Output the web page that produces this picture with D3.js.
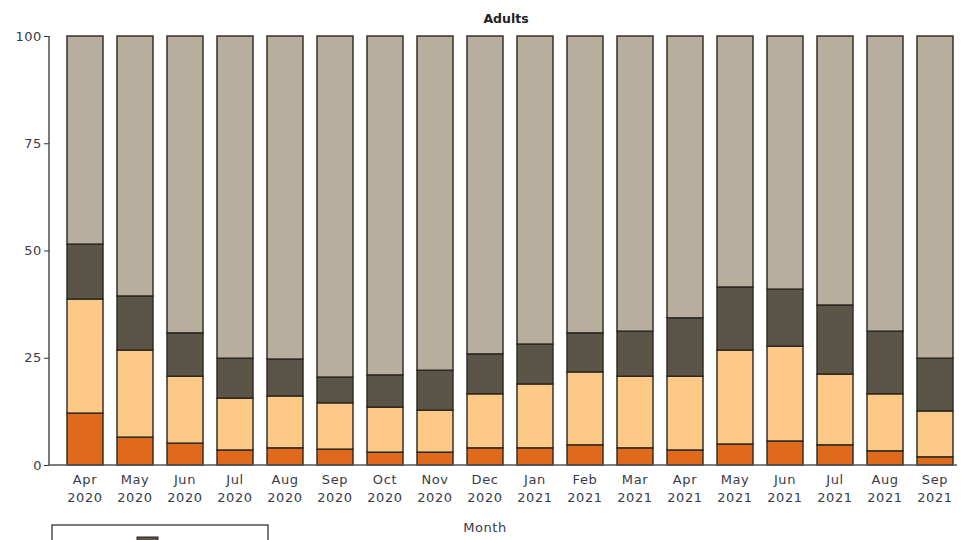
<!DOCTYPE html>
<html><head><meta charset="utf-8">
<script src="https://cdn.jsdelivr.net/npm/d3@7"></script>
<style>body{margin:0;background:#fff}svg{display:block}text{font-family:"DejaVu Sans",sans-serif}</style>
</head><body>
<script>
const months = ["Apr","May","Jun","Jul","Aug","Sep","Oct","Nov","Dec","Jan","Feb","Mar","Apr","May","Jun","Jul","Aug","Sep"];
const years  = ["2020","2020","2020","2020","2020","2020","2020","2020","2020","2021","2021","2021","2021","2021","2021","2021","2021","2021"];
// segment values (percent), bottom to top
const seg1 = [12.1,6.5,5.1,3.5,4.0,3.7,3.0,3.0,4.0,4.0,4.7,4.0,3.5,4.9,5.6,4.7,3.3,1.9];
const seg2 = [26.6,20.3,15.6,12.1,12.1,10.8,10.5,9.8,12.6,14.9,17.0,16.7,17.2,21.9,22.1,16.5,13.3,10.7];
const seg3 = [12.8,12.6,10.1,9.3,8.6,6.0,7.5,9.3,9.3,9.3,9.1,10.5,13.6,14.7,13.3,16.1,14.6,12.3];
const seg4 = seg1.map((d,i)=>+(100-d-seg2[i]-seg3[i]).toFixed(1));
const yTicks = [0,25,50,75,100];
const colors = ["#e06a1c","#fcca86","#5a5547","#b7ae9d"];

const W=961,H=540;
const svg=d3.select("body").append("svg").attr("width",W).attr("height",H);
const keys = months.map((m,i)=>i);
const x=d3.scaleBand().domain(keys).range([60,960]).paddingInner(0.28).paddingOuter(0.14);
const y=d3.scaleLinear().domain([0,100]).range([465,36]);

const rows = keys.map(i=>({i, s0:seg1[i], s1:seg2[i], s2:seg3[i], s3:seg4[i]}));
const stack = d3.stack().keys(["s0","s1","s2","s3"])(rows);

stack.forEach((layer,li)=>{
  svg.append("g").selectAll("rect").data(layer).join("rect")
    .attr("x",d=>x(d.data.i)).attr("width",x.bandwidth())
    .attr("y",d=>y(d[1])).attr("height",d=>y(d[0])-y(d[1]))
    .attr("fill",colors[li]).attr("stroke","#2a2620").attr("stroke-width",1.4);
});

const tf = {size:13, ls:0.6, fill:"#3a3a48"};
// y axis
const ya=svg.append("g").attr("transform","translate(49,0)")
  .call(d3.axisLeft(y).tickValues(yTicks).tickSize(5).tickPadding(2));
ya.select(".domain").attr("stroke","#333").attr("stroke-width",1.3).attr("d","M0,36V465");
ya.selectAll(".tick line").attr("stroke","#333");
ya.selectAll("text").attr("font-size",tf.size).attr("letter-spacing",tf.ls).attr("fill",tf.fill).attr("font-family","DejaVu Sans");

// x axis line
svg.append("line").attr("x1",49).attr("x2",957).attr("y1",465).attr("y2",465).attr("stroke","#555").attr("stroke-width",1.3);

// x labels
const xl=svg.append("g");
keys.forEach(i=>{
  const cx=x(i)+x.bandwidth()/2;
  xl.append("text").attr("x",cx).attr("y",484).attr("text-anchor","middle").attr("font-size",tf.size).attr("letter-spacing",tf.ls).attr("fill",tf.fill).text(months[i]);
  xl.append("text").attr("x",cx).attr("y",502).attr("text-anchor","middle").attr("font-size",tf.size).attr("letter-spacing",tf.ls).attr("fill",tf.fill).text(years[i]);
});

svg.append("text").attr("x",506).attr("y",23).attr("text-anchor","middle").attr("font-size",12.5).attr("font-weight","bold").attr("fill","#222").text("Adults");
svg.append("text").attr("x",485).attr("y",532).attr("text-anchor","middle").attr("font-size",tf.size).attr("letter-spacing",tf.ls).attr("fill",tf.fill).text("Month");

// legend (cut off at bottom)
const lg=svg.append("g");
lg.append("rect").attr("x",52).attr("y",525).attr("width",216).attr("height",40).attr("fill","none").attr("stroke","#333").attr("stroke-width",1.3);
lg.append("rect").attr("x",137).attr("y",537).attr("width",21).attr("height",14).attr("fill",colors[2]).attr("stroke","#222");
</script>
</body></html>
